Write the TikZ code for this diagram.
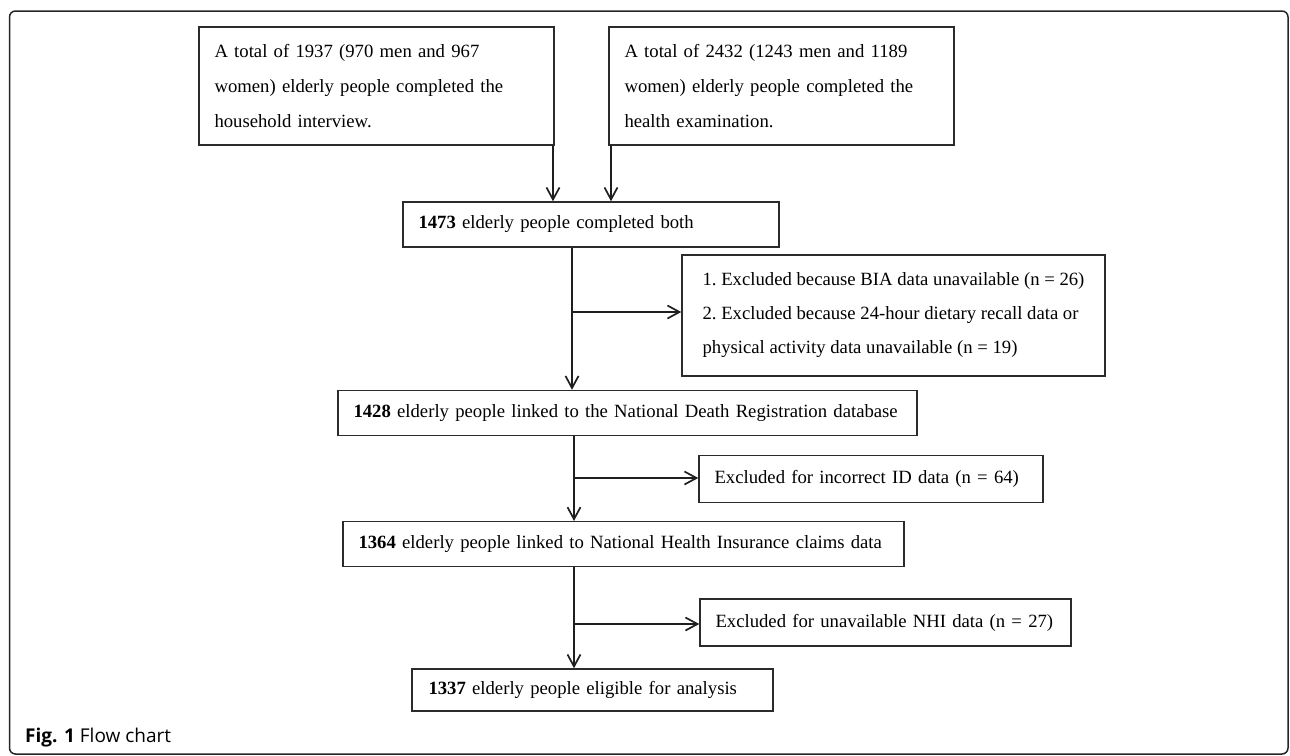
\documentclass[tikz,border=0pt]{standalone}
\usepackage{fontspec}
\setmainfont{Liberation Serif}
\newfontfamily\capfont{Open Sans}
\usetikzlibrary{arrows.meta}
\definecolor{edge}{HTML}{2B2B2B}
\begin{document}
\begin{tikzpicture}[x=1pt,y=-1pt,
  box/.style={draw=edge,line width=1.5pt,rectangle,inner xsep=15.5pt,inner ysep=0pt,
    align=left,font=\fontsize{18.7}{35}\selectfont\frenchspacing,text=black},
  xbox/.style={box,font=\fontsize{18.7}{34}\selectfont\frenchspacing},
  arr/.style={draw=black!88,line width=1.7pt,-{Straight Barb[length=12pt,width=13pt]}},
  ln/.style={draw=black!88,line width=1.7pt}]
\useasboundingbox (0,0) rectangle (1290,755);
\draw[line width=1.5pt,draw=black!85,rounded corners=6pt] (9.5,11) rectangle (1288,754);

\node[box,text width=324pt,minimum height=118pt] (a) at (376.5,86)
  {A total of 1937 (970 men and 967\\women) elderly people completed the\\household interview.};
\node[box,text width=314pt,minimum height=118pt] (b) at (781.5,86)
  {A total of 2432 (1243 men and 1189\\women) elderly people completed the\\health examination.};
\node[box,text width=345pt,minimum height=45pt] (c) at (591,224.5)
  {\textbf{1473} elderly people completed both};
\node[xbox,inner xsep=0pt,minimum width=423pt,minimum height=121pt] (x1) at (893.5,315.5)
  {1. Excluded because BIA data unavailable (n = 26)\\2. Excluded because 24-hour dietary recall data or\\physical activity data unavailable (n = 19)};
\node[box,text width=548pt,minimum height=45pt] (d) at (627.5,413)
  {\textbf{1428} elderly people linked to the National Death Registration database};
\node[box,text width=313pt,minimum height=47pt] (x2) at (871,479)
  {Excluded for incorrect ID data (n = 64)};
\node[box,text width=530pt,minimum height=45pt] (e) at (623.5,544.2)
  {\textbf{1364} elderly people linked to National Health Insurance claims data};
\node[box,text width=340pt,minimum height=47pt] (x3) at (885.5,622.5)
  {Excluded for unavailable NHI data (n = 27)};
\node[box,minimum height=42pt,inner xsep=16.5pt,text width=328pt] (f) at (592.5,690)
  {\textbf{1337} elderly people eligible for analysis};

\node[anchor=west,inner sep=0pt,font=\capfont\fontsize{19}{22}\selectfont] (cap) at (25,738)
  {\textbf{Fig. 1} Flow chart};

\coordinate (pa) at (553,145);
\coordinate (pb) at (611,145);
\coordinate (k1) at (572,312);
\coordinate (k2) at (574,478);
\coordinate (k3) at (574,624);

\draw[arr] (a.south -| pa) -- (c.north -| pa);
\draw[arr] (b.south -| pb) -- (c.north -| pb);
\draw[arr] (c.south -| k1) -- (d.north -| k1);
\draw[arr] (k1) -- (k1 -| x1.west);
\draw[arr] (d.south -| k2) -- (e.north -| k2);
\draw[arr] (k2) -- (k2 -| x2.west);
\draw[arr] (e.south -| k3) -- (f.north -| k3);
\draw[arr] (k3) -- (k3 -| x3.west);
\end{tikzpicture}
\end{document}
